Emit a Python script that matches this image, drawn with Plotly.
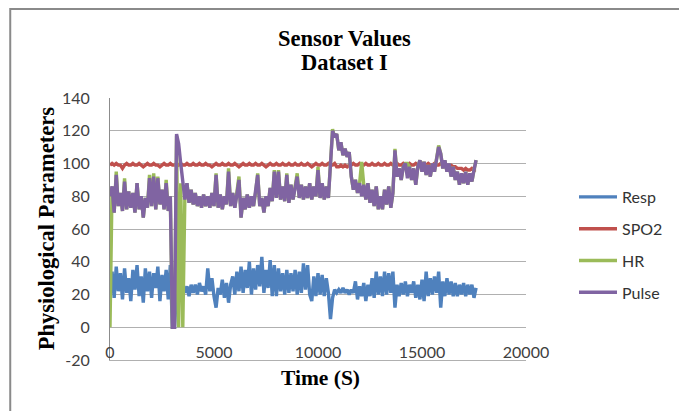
import plotly.graph_objects as go

# Time axis (seconds), sampled every 100 s
time_s = list(range(0, 17700, 100))

resp = [
    20, 34, 18, 37, 22, 33, 17, 36, 21, 30,
    16, 35, 23, 38, 19, 31, 15, 36, 22, 34,
    18, 33, 24, 37, 16, 32, 22, 35, 17, 38,
    0, 0, 22, 25, 20, 26, 21, 25, 19, 26,
    21, 26, 20, 27, 22, 25, 20, 36, 22, 30,
    19, 12, 24, 20, 29, 18, 27, 15, 26, 31,
    20, 34, 22, 37, 21, 35, 24, 40, 20, 36,
    23, 38, 25, 43, 21, 35, 24, 41, 19, 38,
    19, 36, 22, 33, 20, 35, 21, 33, 22, 35,
    20, 34, 21, 39, 23, 38, 20, 16, 31, 19,
    33, 20, 32, 19, 30, 21, 5, 18, 23, 21,
    23, 21, 24, 21, 23, 20, 23, 21, 28, 17,
    25, 19, 27, 16, 26, 19, 30, 18, 34, 20,
    31, 19, 34, 20, 33, 21, 34, 12, 26, 19,
    27, 20, 28, 19, 26, 21, 28, 18, 26, 17,
    29, 16, 34, 19, 30, 20, 31, 21, 34, 12,
    28, 19, 30, 20, 28, 19, 27, 19, 26, 20,
    27, 19, 26, 20, 26, 18, 24,
]

spo2 = [
    99, 100, 99, 100, 99, 99, 97, 99, 100, 99,
    99, 100, 99, 99, 100, 99, 98, 99, 100, 99,
    99, 100, 99, 99, 98, 99, 100, 99, 99, 100,
    99, 99, 100, 99, 100, 99, 99, 100, 99, 99,
    100, 99, 99, 100, 99, 99, 100, 99, 99, 98,
    99, 100, 99, 99, 100, 99, 99, 100, 99, 99,
    100, 99, 98, 99, 100, 99, 99, 100, 99, 99,
    100, 99, 99, 100, 99, 98, 99, 100, 99, 99,
    100, 99, 99, 100, 99, 99, 100, 99, 99, 100,
    99, 99, 100, 99, 99, 100, 99, 98, 99, 100,
    99, 99, 100, 99, 99, 100, 99, 99, 100, 98,
    98, 99, 98, 99, 98, 99, 99, 100, 99, 99,
    100, 99, 99, 100, 99, 99, 100, 99, 99, 100,
    99, 99, 100, 99, 99, 100, 99, 99, 100, 99,
    99, 100, 99, 99, 100, 99, 99, 100, 99, 99,
    100, 99, 99, 100, 99, 99, 100, 99, 99, 100,
    99, 99, 98, 99, 99, 98, 98, 97, 97, 97,
    96, 97, 96, 96, 97, 96, 96,
]

hr = [
    0, 86, 70, 95, 74, 82, 71, 91, 72, 83,
    73, 82, 70, 88, 72, 80, 67, 79, 73, 93,
    74, 94, 72, 92, 75, 84, 72, 90, 71, 80,
    0, 0, 117, 0, 88, 0, 80, 88, 76, 84,
    75, 82, 74, 80, 73, 81, 74, 80, 73, 82,
    74, 94, 73, 81, 72, 80, 75, 97, 74, 82,
    73, 81, 92, 67, 79, 72, 81, 73, 80, 74,
    82, 94, 74, 79, 70, 80, 74, 85, 77, 96,
    79, 96, 78, 86, 77, 94, 76, 87, 78, 86,
    94, 79, 87, 78, 86, 79, 88, 78, 86, 80,
    98, 79, 88, 78, 86, 79, 104, 121, 116, 118,
    108, 113, 105, 109, 104, 107, 92, 84, 90, 82,
    88, 101, 87, 78, 88, 76, 84, 74, 86, 72,
    80, 72, 84, 75, 86, 73, 82, 109, 92, 97,
    90, 98, 100, 100, 98, 90, 97, 87, 98, 102,
    95, 101, 93, 99, 92, 100, 95, 104, 111, 106,
    97, 102, 95, 100, 92, 98, 90, 95, 87, 94,
    88, 95, 87, 94, 89, 96, 102,
]

pulse = [
    80, 86, 70, 93, 74, 82, 71, 89, 72, 83,
    73, 82, 70, 88, 72, 80, 67, 79, 73, 91,
    74, 92, 72, 91, 75, 84, 72, 88, 71, 80,
    0, 0, 118, 112, 100, 90, 78, 88, 76, 84,
    75, 82, 74, 80, 73, 81, 74, 80, 73, 82,
    74, 93, 73, 81, 72, 80, 75, 95, 74, 82,
    73, 81, 90, 67, 79, 72, 81, 73, 80, 74,
    82, 93, 74, 79, 70, 80, 74, 85, 77, 95,
    79, 95, 78, 86, 77, 93, 76, 87, 78, 86,
    92, 79, 87, 78, 86, 79, 88, 78, 86, 80,
    96, 79, 88, 78, 86, 79, 104, 120, 116, 118,
    108, 113, 105, 109, 104, 107, 92, 84, 90, 82,
    88, 80, 87, 78, 88, 76, 84, 74, 86, 72,
    80, 72, 84, 75, 86, 73, 82, 108, 92, 97,
    90, 98, 100, 91, 98, 90, 97, 87, 98, 102,
    95, 101, 93, 99, 92, 100, 95, 104, 110, 106,
    97, 102, 95, 100, 92, 98, 90, 95, 87, 94,
    88, 95, 87, 94, 89, 96, 102,
]

series_names = ["Resp", "SPO2", "HR", "Pulse"]
series_values = [resp, spo2, hr, pulse]
series_colors = ["#4F81BD", "#C0504D", "#9BBB59", "#8064A2"]
series_xaxes = ["x", "x2", "x2", "x2"]

y_ticks = [-20, 0, 20, 40, 60, 80, 100, 120, 140]
x_ticks = [0, 5000, 10000, 15000, 20000]

fig = go.Figure()
for name, vals, col, xa in zip(series_names, series_values, series_colors, series_xaxes):
    fig.add_trace(go.Scatter(
        x=time_s, y=vals, mode="lines", name=name, legendgroup=name,
        line=dict(color=col, width=3.4), xaxis=xa, yaxis="y",
    ))

W, H = 679, 411
ml, mr, mt, mb = 110, 152, 98, 51
pw, ph = W - ml - mr, H - mt - mb

def px_x(p):
    return (p - ml) / pw

def px_y(p):
    return (H - mb - p) / ph

tick_font = dict(family="Lato, Liberation Sans, sans-serif", size=16, color="#404040")
leg_font = dict(family="Lato, Liberation Sans, sans-serif", size=16, color="#333333")
title_font = dict(family="Liberation Serif, Times New Roman, serif", size=22.5, color="#000000")
xtitle_font = dict(family="Liberation Serif, Times New Roman, serif", size=21.5, color="#000000")

fig.update_layout(
    width=W, height=H,
    margin=dict(l=ml, r=mr, t=mt, b=mb),
    paper_bgcolor="white", plot_bgcolor="white",
    showlegend=True,
    legend=dict(
        x=px_x(574), y=px_y(180), xanchor="left", yanchor="top",
        font=leg_font, tracegroupgap=8, itemwidth=38, bgcolor="rgba(0,0,0,0)",
    ),
    # primary x axis: its line plays the role of the -20 gridline
    xaxis=dict(
        range=[0, 20000], showgrid=False, zeroline=False,
        showline=True, linecolor="#b0b0b0", linewidth=1,
        showticklabels=False, ticks="",
    ),
    # overlay x axis carrying the tick labels, positioned like Excel's
    xaxis2=dict(
        range=[0, 20000], overlaying="x", anchor="free", position=px_y(341),
        tickvals=x_ticks, ticktext=[str(v) for v in x_ticks],
        showgrid=False, zeroline=False, showline=False,
        tickfont=tick_font, ticks="", side="bottom",
    ),
    yaxis=dict(
        range=[-20, 140], tickvals=y_ticks, ticktext=[str(v) for v in y_ticks],
        showgrid=True, gridcolor="#b0b0b0", gridwidth=1, zeroline=False,
        showline=True, linecolor="#8c8c8c", linewidth=1,
        tickfont=tick_font, ticks="", ticklabelstandoff=16,
    ),
    annotations=[
        dict(text="<b>Sensor Values</b>", x=px_x(345), y=px_y(38), xref="paper", yref="paper",
             showarrow=False, font=title_font, xanchor="center", yanchor="middle"),
        dict(text="<b>Dataset I</b>", x=px_x(345), y=px_y(63), xref="paper", yref="paper",
             showarrow=False, font=title_font, xanchor="center", yanchor="middle"),
        dict(text="<b>Time (S)</b>", x=px_x(321), y=px_y(378), xref="paper", yref="paper",
             showarrow=False, font=xtitle_font, xanchor="center", yanchor="middle"),
        dict(text="<b>Physiological Parameters</b>", x=px_x(46), y=px_y(229), xref="paper", yref="paper",
             showarrow=False, font=title_font, textangle=-90, xanchor="center", yanchor="middle"),
    ],
    shapes=[
        dict(type="rect", xref="paper", yref="paper",
             x0=px_x(10), x1=px_x(700), y0=px_y(430), y1=px_y(9),
             line=dict(color="#8a8a8a", width=2), fillcolor="rgba(0,0,0,0)", layer="below"),
    ],
)

fig.write_html("out.html")
